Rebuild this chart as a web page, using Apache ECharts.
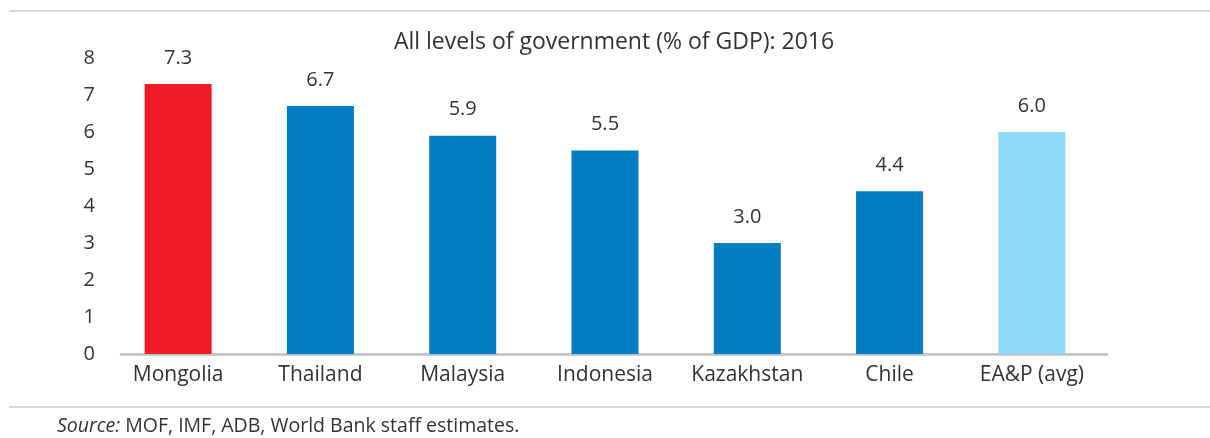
<!DOCTYPE html>
<html>
<head>
<meta charset="utf-8">
<script src="https://cdn.jsdelivr.net/npm/echarts@6/dist/echarts.min.js"></script>
<style>
html,body{margin:0;padding:0;background:#fff;}
#chart{width:1210px;height:438px;}
</style>
</head>
<body>
<div id="chart"></div>
<script>
const categories = ['Mongolia', 'Thailand', 'Malaysia', 'Indonesia', 'Kazakhstan', 'Chile', 'EA&P (avg)'];
const values = [7.3, 6.7, 5.9, 5.5, 3.0, 4.4, 6.0];
const yTicks = [0, 1, 2, 3, 4, 5, 6, 7, 8];
const titleText = 'All levels of government (% of GDP): 2016';
const sourceLabel = 'Source:';
const sourceText = ' MOF, IMF, ADB, World Bank staff estimates.';

const barColors = ['#EE1C25', '#007DC3', '#007DC3', '#007DC3', '#007DC3', '#007DC3', '#8FD8F6'];
const FONT = '"Open Sans", "Noto Sans", sans-serif';
const TXT = '#333333';

const chart = echarts.init(document.getElementById('chart'), null, {renderer: 'canvas'});
chart.setOption({
  backgroundColor: '#ffffff',
  animation: false,
  textStyle: {fontFamily: FONT},
  title: [
    {
      text: titleText,
      left: 609, top: 26, textAlign: 'center',
      textStyle: {fontFamily: FONT, fontSize: 23, fontWeight: 'normal', color: TXT}
    },
    {
      text: '{i|' + sourceLabel + '}{n|' + sourceText + '}',
      left: 52, top: 411,
      textStyle: {
        fontWeight: 'normal',
        rich: {
          i: {fontFamily: FONT, fontSize: 19.5, fontStyle: 'italic', fontWeight: 'normal', color: TXT},
          n: {fontFamily: FONT, fontSize: 19.5, fontWeight: 'normal', color: TXT}
        }
      }
    }
  ],
  graphic: [
    {type: 'line', shape: {x1: 9, y1: 11, x2: 1210, y2: 11}, style: {stroke: '#D9D9D9', lineWidth: 2}},
    {type: 'line', shape: {x1: 9, y1: 407, x2: 1210, y2: 407}, style: {stroke: '#D9D9D9', lineWidth: 2}}
  ],
  grid: [
    {left: 107, right: 107, top: 58, bottom: 84, containLabel: false},
    {left: 121, right: 103, top: 58, bottom: 84, containLabel: false}
  ],
  xAxis: [
    {
      type: 'category', gridIndex: 0, data: categories,
      axisLine: {show: false}, axisTick: {show: false},
      axisLabel: {fontFamily: FONT, fontSize: 21, color: TXT, margin: 11, interval: 0}
    },
    {
      type: 'value', gridIndex: 1, min: 0, max: 1,
      axisLine: {show: true, onZero: false, lineStyle: {color: '#BFBFBF', width: 2.5}},
      axisTick: {show: false}, axisLabel: {show: false}, splitLine: {show: false}
    }
  ],
  yAxis: [
    {
      type: 'value', gridIndex: 0, min: yTicks[0], max: yTicks[yTicks.length - 1], interval: 1,
      axisLine: {show: false}, axisTick: {show: false}, splitLine: {show: false},
      axisLabel: {fontFamily: FONT, fontSize: 20, color: TXT, margin: 12}
    },
    {type: 'value', gridIndex: 1, min: 0, max: 1, show: false}
  ],
  series: [
    {
      type: 'bar', xAxisIndex: 0, yAxisIndex: 0,
      data: values,
      barWidth: 67,
      itemStyle: {color: p => barColors[p.dataIndex]},
      label: {
        show: true, position: 'top', distance: 16,
        fontFamily: FONT, fontSize: 20, color: TXT,
        formatter: p => p.value.toFixed(1)
      }
    }
  ]
});
</script>
</body>
</html>
